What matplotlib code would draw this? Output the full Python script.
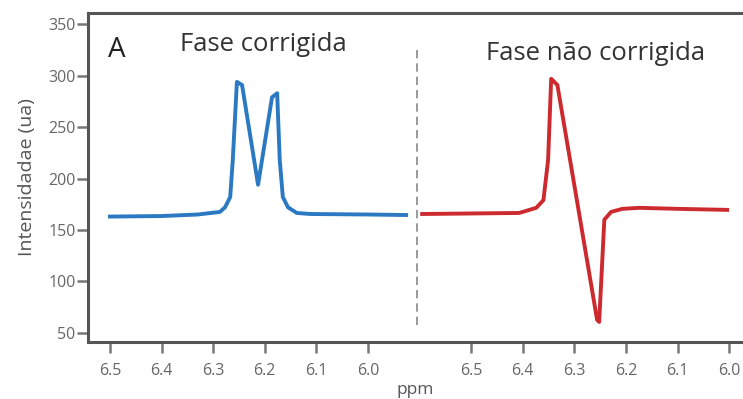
import numpy as np
import matplotlib
matplotlib.use("Agg")
import matplotlib.pyplot as plt

plt.rcParams['font.family'] = ['Open Sans', 'DejaVu Sans']

# espectro com fase corrigida
ppm_corr = [6.50, 6.40, 6.33, 6.287, 6.277, 6.267, 6.262, 6.254, 6.244, 6.213,
            6.186, 6.176, 6.171, 6.165, 6.155, 6.138, 6.112, 6.00, 5.926]
int_corr = [163, 163.5, 165, 167.5, 172, 182, 218, 294, 291, 194,
            279, 283, 218, 182, 172, 166.5, 165.5, 165, 164.5]

# espectro com fase nao corrigida
ppm_nc = [6.595, 6.50, 6.407, 6.374, 6.360, 6.351, 6.345, 6.333, 6.256, 6.252,
          6.242, 6.229, 6.207, 6.174, 6.10, 6.004]
int_nc = [165.5, 166, 166.5, 171.5, 179, 218, 297, 291, 62.5, 60.5,
          160, 167.5, 170.5, 171.5, 170.5, 169.5]

tick_ppm = [6.5, 6.4, 6.3, 6.2, 6.1, 6.0]
offset = 0.70  # deslocamento do segundo painel no eixo


def pos(p, shift=0.0):
    return shift + 6.5 - np.asarray(p)


fig = plt.figure(figsize=(7.43, 3.99), dpi=100)
ax = fig.add_axes([0.1184, 0.1429, 0.8816, 0.8245])

ax.plot(pos(ppm_corr), int_corr, color='#2b79c2', lw=2.8)
ax.plot(pos(ppm_nc, offset), int_nc, color='#cc2a2e', lw=2.8)
ax.plot([0.595, 0.595], [58, 330], color='#888888', lw=1.2, ls=(0, (5, 3)))

ax.set_xlim(-0.0426, 1.2267)
ax.set_ylim(41, 361)

xt = list(pos(tick_ppm)) + list(pos(tick_ppm, offset))
ax.set_xticks(xt)
ax.set_xticklabels([f"{t:.1f}" for t in tick_ppm] * 2)
ax.set_yticks([50, 100, 150, 200, 250, 300, 350])

for s in ['left', 'top', 'bottom']:
    ax.spines[s].set_color('#555555')
    ax.spines[s].set_linewidth(2.2)
ax.spines['right'].set_visible(False)
ax.tick_params(axis='both', colors='#777777', labelcolor='#666666', width=1.8,
               length=8, labelsize=11.5)
ax.tick_params(axis='x', pad=7)
ax.tick_params(axis='y', pad=1)

ax.set_ylabel("Intensidadae (ua)", color='#555555', fontsize=14, labelpad=9)
ax.set_xlabel("ppm", color='#555555', fontsize=12.5, labelpad=2)

ax.text(0.03, 0.888, "A", transform=ax.transAxes, fontsize=20, color='#222222',
        va='center', ha='left', fontweight='medium')
ax.text(0.268, 0.904, "Fase corrigida", transform=ax.transAxes, fontsize=18.5,
        color='#333333', va='center', ha='center')
ax.text(0.775, 0.876, "Fase não corrigida", transform=ax.transAxes, fontsize=18.5,
        color='#333333', va='center', ha='center')

fig.savefig("out.png", dpi=100)
